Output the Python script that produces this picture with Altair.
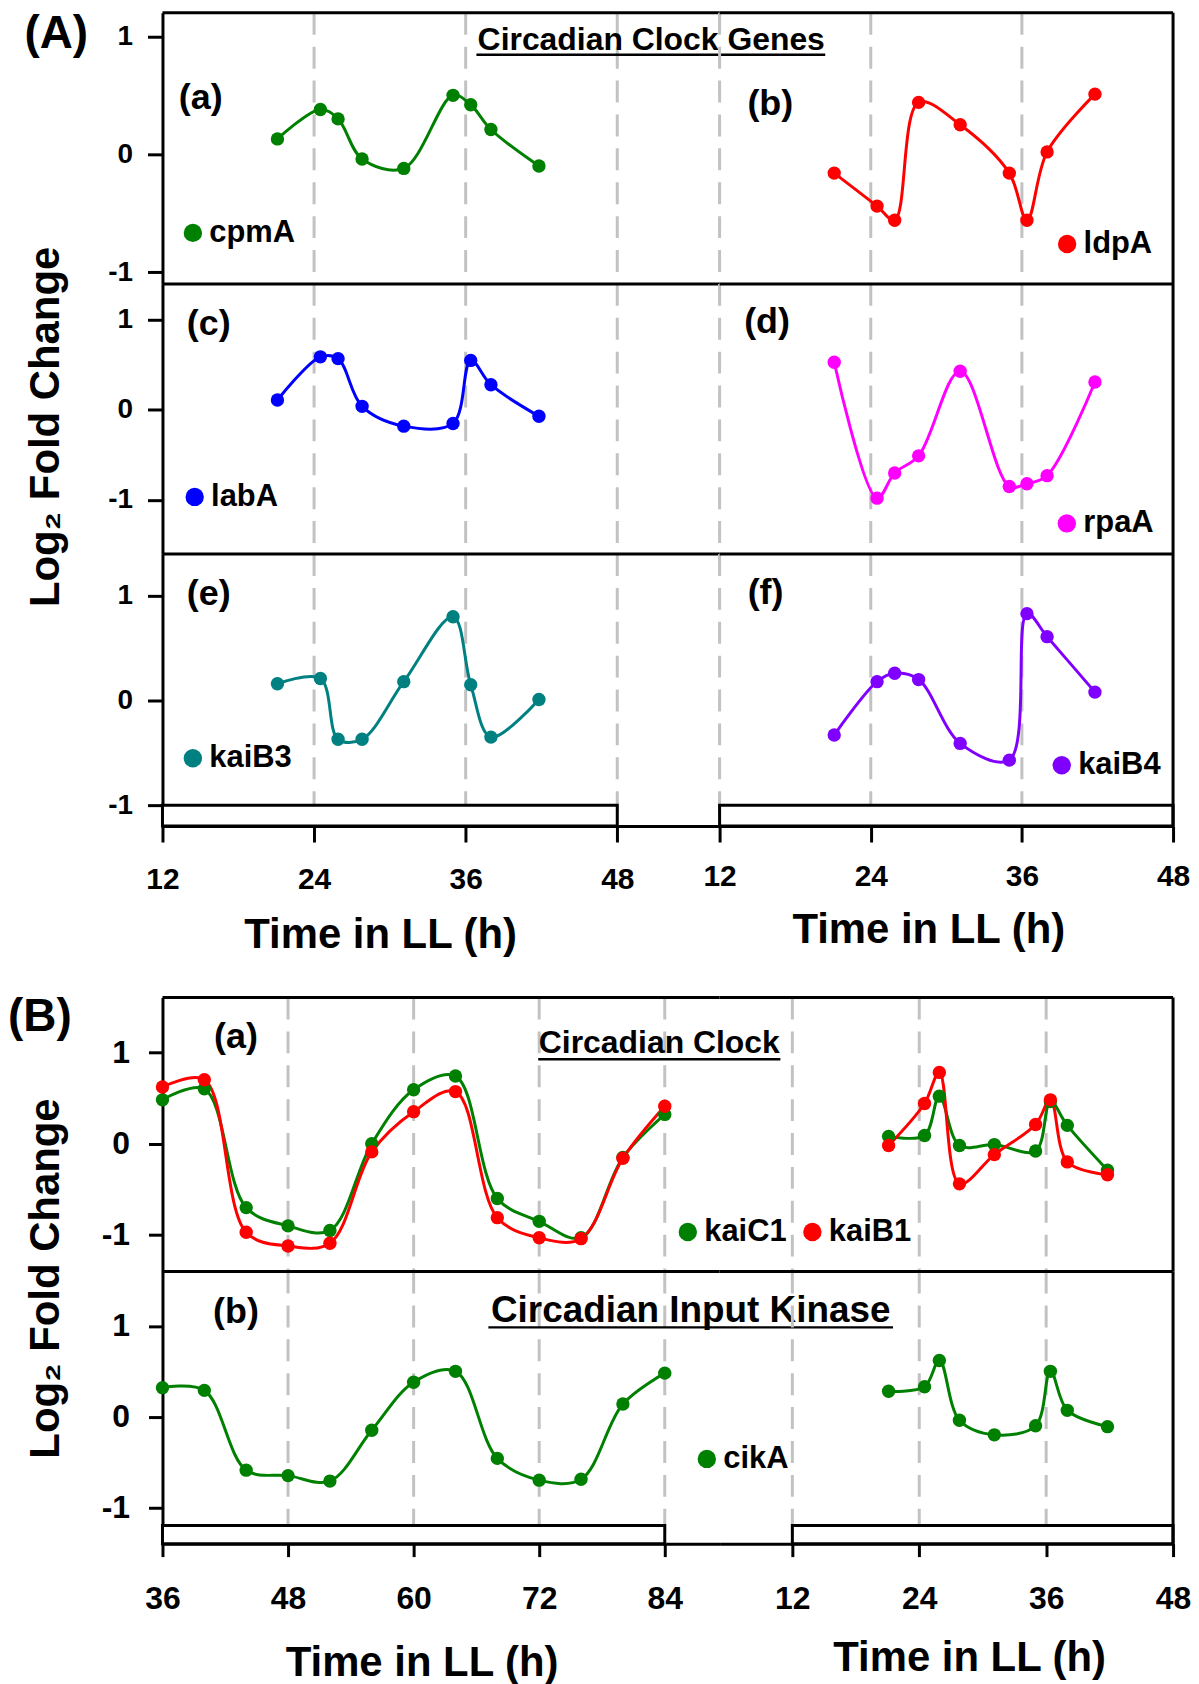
import altair as alt
import pandas as pd

FONT = "Liberation Sans"

# ---------------- data ----------------
T_SHORT = [21.1, 24.5, 25.9, 27.8, 31.1, 35.0, 36.4, 38.0, 41.8]
T_LONG = [36, 40, 44, 48, 52, 56, 60, 64, 68, 72, 76, 80, 84]

CPMA = [0.13, 0.38, 0.30, -0.04, -0.12, 0.50, 0.42, 0.21, -0.10]
LDPA = [-0.16, -0.44, -0.56, 0.44, 0.25, -0.16, -0.56, 0.02, 0.51]
LABA = [0.11, 0.59, 0.57, 0.04, -0.18, -0.15, 0.55, 0.28, -0.07]
RPAA = [0.53, -0.98, -0.70, -0.51, 0.43, -0.85, -0.82, -0.73, 0.31]
KAIB3 = [0.16, 0.21, -0.37, -0.37, 0.18, 0.80, 0.15, -0.35, 0.01]
KAIB4 = [-0.33, 0.18, 0.26, 0.20, -0.41, -0.57, 0.83, 0.61, 0.08]

KAIC1_LONG = [0.48, 0.60, -0.70, -0.90, -0.95, 0.00, 0.59, 0.74, -0.60, -0.85, -1.03, -0.15, 0.32]
KAIB1_LONG = [0.62, 0.70, -0.97, -1.12, -1.09, -0.09, 0.35, 0.57, -0.81, -1.03, -1.04, -0.16, 0.41]
KAIC1_SHORT = [0.08, 0.09, 0.52, -0.02, -0.01, -0.08, 0.46, 0.20, -0.29]
KAIB1_SHORT = [-0.02, 0.44, 0.78, -0.44, -0.12, 0.21, 0.48, -0.20, -0.34]
CIKA_LONG = [0.32, 0.29, -0.59, -0.65, -0.71, -0.15, 0.38, 0.50, -0.46, -0.70, -0.69, 0.14, 0.48]
CIKA_SHORT = [0.28, 0.33, 0.62, -0.04, -0.20, -0.10, 0.50, 0.07, -0.11]

TICKS_A = [12, 24, 36, 48]
TICKS_B_LEFT = [36, 48, 60, 72, 84]
TICKS_RIGHT = [12, 24, 36, 48]
Y_TICKS = [-1, 0, 1]
GRID_A_LEFT = [24, 36, 48]
GRID_B_LEFT = [48, 60, 72, 84]
GRID_RIGHT = [12, 24, 36]
LIGHT_A_LEFT = [12, 48]
LIGHT_B_LEFT = [36, 84]
LIGHT_RIGHT = [12, 48]

COLORS = {
    "cpmA": "#008000", "ldpA": "#ff0000", "labA": "#0000ff", "rpaA": "#ff00ff",
    "kaiB3": "#008080", "kaiB4": "#8000ff", "kaiC1": "#008000", "kaiB1": "#ff0000",
    "cikA": "#008000",
}

LABEL_EXPR = "'' + datum.value"


def make_legend(lx, ly, horizontal=False):
    kw = dict(orient="none", legendX=lx, legendY=ly, title=None, symbolType="circle",
              symbolSize=340, symbolStrokeWidth=0, symbolOpacity=1, labelFont=FONT,
              labelFontSize=31, labelFontWeight="bold", labelColor="black",
              labelOffset=1, padding=0)
    if horizontal:
        kw.update(direction="horizontal", columns=2, columnPadding=10)
    else:
        kw.update(direction="vertical")
    return alt.Legend(**kw)


def panel(series, width, height, xdom, ydom, grid, yaxis=None, xaxis=None,
          light=None, light_top=None, right_border=False, legend=None,
          notes=(), underline=None):
    xs = alt.Scale(domain=xdom, nice=False, zero=False)
    ys = alt.Scale(domain=ydom, nice=False, zero=False)
    one = pd.DataFrame({"k": [0]})
    layers = [
        alt.Chart(pd.DataFrame({"g": grid})).mark_rule(
            color="#c2c2c2", strokeWidth=3, strokeDash=[22, 12]
        ).encode(x=alt.X("g:Q", scale=xs, axis=xaxis))
    ]
    if light is not None:
        df = pd.DataFrame({"x0": [light[0]], "x1": [light[1]],
                           "y0": [light_top], "y1": [ydom[0]]})
        layers.append(alt.Chart(df).mark_rect(fill="white", stroke="black", strokeWidth=3).encode(
            x=alt.X("x0:Q", scale=xs, axis=xaxis), x2="x1:Q",
            y=alt.Y("y0:Q", scale=ys, axis=yaxis), y2="y1:Q"))
    layers.append(alt.Chart(one).mark_rule(color="black", strokeWidth=3).encode(
        x=alt.value(0), x2=alt.value(width), y=alt.value(0)))
    if right_border:
        layers.append(alt.Chart(one).mark_rule(color="black", strokeWidth=3).encode(
            x=alt.value(width), y=alt.value(0), y2=alt.value(height)))
    frames = []
    for name, t, v in series:
        df = pd.DataFrame({"gene": name, "t": t, "v": v})
        frames.append(df)
        layers.append(alt.Chart(df).mark_line(
            color=COLORS[name], strokeWidth=3, interpolate="catmull-rom"
        ).encode(x=alt.X("t:Q", scale=xs, axis=xaxis), y=alt.Y("v:Q", scale=ys, axis=yaxis)))
    names = [s[0] for s in series]
    pts = pd.concat(frames, ignore_index=True)
    layers.append(alt.Chart(pts).mark_circle(size=180, opacity=1).encode(
        x=alt.X("t:Q", scale=xs, axis=xaxis),
        y=alt.Y("v:Q", scale=ys, axis=yaxis),
        fill=alt.Fill("gene:N", scale=alt.Scale(domain=names, range=[COLORS[n] for n in names]),
                      legend=legend)))
    for txt, x, y, size in notes:
        layers.append(alt.Chart(pd.DataFrame({"s": [txt]})).mark_text(
            font=FONT, fontWeight="bold", fontSize=size, color="black",
            align="center", baseline="middle"
        ).encode(text="s:N", x=alt.value(x), y=alt.value(y)))
    if underline is not None:
        x0, x1, y = underline
        layers.append(alt.Chart(one).mark_rule(color="black", strokeWidth=2.5).encode(
            x=alt.value(x0), x2=alt.value(x1), y=alt.value(y)))
    return alt.layer(*layers).properties(width=width, height=height)


def spacer(width, height):
    return alt.Chart(pd.DataFrame({"k": [0]})).mark_point(opacity=0).encode(
        x=alt.value(0), y=alt.value(0)).properties(width=width, height=height)


def y_axis(size, tick, pad, title=None, tx=None, ty=None):
    kw = dict(values=Y_TICKS, tickSize=tick, labelFontSize=size, labelPadding=pad,
              labelExpr=LABEL_EXPR, domain=True, ticks=True, grid=False)
    if title:
        kw.update(title=title, titleFontSize=42, titleX=tx, titleY=ty, titleAngle=270,
                  titleBaseline="alphabetic", titleAlign="center")
    else:
        kw.update(title=None)
    return alt.Axis(**kw)


def x_axis(values, size, tick, pad, tx, ty):
    return alt.Axis(values=values, tickSize=tick, labelFontSize=size, labelPadding=pad,
                    labelExpr=LABEL_EXPR, labelFlush=False, labelOverlap=False,
                    title="Time in LL (h)", titleFontSize=42, titleX=tx, titleY=ty,
                    titleBaseline="alphabetic", titleAlign="center", grid=False)


W_L, W_R = 559, 455
XA_L, XA_R = [12, 56.1], [12, 48]
XB_L, XB_R = [36, 89.24], [5.12, 48]

# ---------------- section A ----------------
a1l = panel([("cpmA", T_SHORT, CPMA)], W_L, 272, XA_L, [-1.1, 1.2], GRID_A_LEFT,
            yaxis=y_axis(28, 15, 15), legend=make_legend(15.0, 205.3),
            notes=[("(A)", -106.6, 21.7, 46), ("(a)", 38.4, 86, 36),
                   ("Circadian Clock Genes", 490.4, 27, 32)],
            underline=(315, 665, 42))
a1r = panel([("ldpA", T_SHORT, LDPA)], W_R, 272, XA_R, [-1.1, 1.2], GRID_RIGHT,
            right_border=True, legend=make_legend(333.2, 216.5),
            notes=[("(b)", 50.9, 91.5, 36)])
a2l = panel([("labA", T_SHORT, LABA)], W_L, 271, XA_L, [-1.6, 1.4], GRID_A_LEFT,
            yaxis=y_axis(28, 15, 15, "Log\u2082 Fold Change", -104, 143),
            legend=make_legend(16.8, 198.2), notes=[("(c)", 46.4, 40, 36)])
a2r = panel([("rpaA", T_SHORT, RPAA)], W_R, 271, XA_R, [-1.6, 1.4], GRID_RIGHT,
            right_border=True, legend=make_legend(332.9, 224.8),
            notes=[("(d)", 47.6, 38.5, 36)])
a3l = panel([("kaiB3", T_SHORT, KAIB3)], W_L, 273, XA_L, [-1.2, 1.4], GRID_A_LEFT,
            yaxis=y_axis(28, 15, 15), xaxis=x_axis(TICKS_A, 30, 16, 23, 218.4, 122),
            light=LIGHT_A_LEFT, light_top=-1.0, legend=make_legend(15.0, 189.5),
            notes=[("(e)", 46.4, 40.6, 36)])
a3r = panel([("kaiB4", T_SHORT, KAIB4)], W_R, 273, XA_R, [-1.2, 1.4], GRID_RIGHT,
            xaxis=x_axis(TICKS_RIGHT, 30, 16, 20, 209.4, 117),
            light=LIGHT_RIGHT, light_top=-1.0, right_border=True,
            legend=make_legend(327.8, 196.5), notes=[("(f)", 46.1, 39.5, 36)])

# ---------------- section B ----------------
b1l = panel([("kaiC1", T_LONG, KAIC1_LONG), ("kaiB1", T_LONG, KAIB1_LONG)], W_L, 275, XB_L,
            [-1.4, 1.6], GRID_B_LEFT,
            yaxis=y_axis(32, 14, 19, "Log\u2082 Fold Change", -104, 281.5),
            legend=make_legend(511.6, 219.5, horizontal=True),
            notes=[("(B)", -123, 19.5, 46), ("(a)", 73.7, 39.7, 36),
                   ("Circadian Clock", 498.5, 46, 32)],
            underline=(377, 620, 62))
b1r = panel([("kaiC1", T_SHORT, KAIC1_SHORT), ("kaiB1", T_SHORT, KAIB1_SHORT)], W_R, 275, XB_R,
            [-1.4, 1.6], GRID_RIGHT, right_border=True, legend=None)
b2l = panel([("cikA", T_LONG, CIKA_LONG)], W_L, 273, XB_L, [-1.4, 1.6], GRID_B_LEFT,
            yaxis=y_axis(32, 14, 19), xaxis=x_axis(TICKS_B_LEFT, 32, 13, 27, 260, 132),
            light=LIGHT_B_LEFT, light_top=-1.2, legend=make_legend(530.7, 172.5),
            notes=[("(b)", 73.7, 41, 36), ("Circadian Input Kinase", 530, 39.7, 37)],
            underline=(327, 733, 56))
b2r = panel([("cikA", T_SHORT, CIKA_SHORT)], W_R, 273, XB_R, [-1.4, 1.6], GRID_RIGHT,
            xaxis=x_axis(TICKS_RIGHT, 32, 13, 27, 250.4, 127),
            light=LIGHT_RIGHT, light_top=-1.2, right_border=True, legend=None)

RES = dict(x="independent", y="independent", fill="independent")

chart = (
    alt.concat(a1l, a1r, a2l, a2r, a3l, a3r, spacer(W_L, 172), spacer(W_R, 172),
               b1l, b1r, b2l, b2r,
               columns=2, spacing=0, bounds="flush")
    .resolve_scale(**RES)
    .properties(padding={"left": 0, "top": 0, "right": 0, "bottom": 0})
    .configure_view(strokeWidth=0)
    .configure_axis(domainColor="black", domainWidth=3, tickColor="black", tickWidth=3,
                    labelColor="black", labelFont=FONT, labelFontWeight="bold",
                    titleFont=FONT, titleFontWeight="bold", titleColor="black", grid=False)
)

chart.save("out.html", embed_options={"renderer": "svg", "actions": False})
